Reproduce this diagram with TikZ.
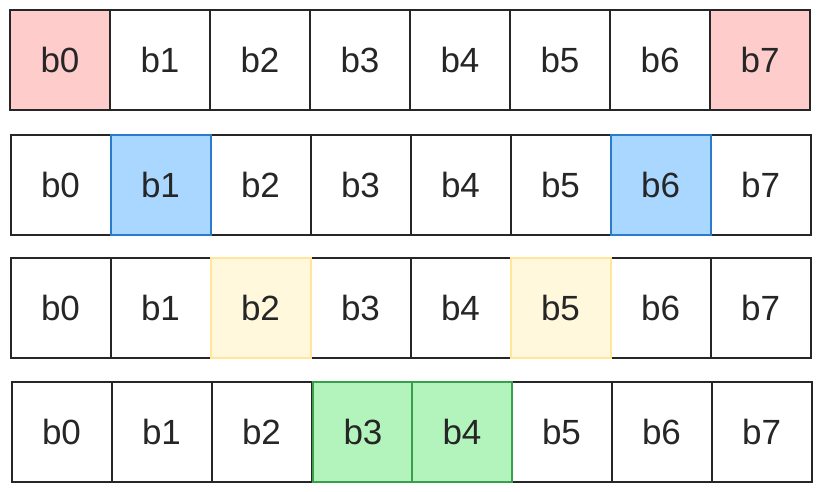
\documentclass[tikz,border=0pt]{standalone}
\usepackage{fontspec}
\setmainfont{Liberation Sans}
\definecolor{edge}{HTML}{262626}
\definecolor{redfill}{HTML}{FFCCCC}
\definecolor{bluefill}{HTML}{A9D7FF}
\definecolor{blueedge}{HTML}{2B7BCB}
\definecolor{yelfill}{HTML}{FFF8DC}
\definecolor{yeledge}{HTML}{FFE69A}
\definecolor{grnfill}{HTML}{B3F3BC}
\definecolor{grnedge}{HTML}{3A9F4A}
\tikzset{
  cell/.style={draw=edge, line width=2pt, fill=white, minimum width=100pt, minimum height=100pt,
    inner sep=0pt, outer sep=0pt, font=\fontsize{35}{40}\selectfont, text=edge, anchor=north west},
  redc/.style={fill=redfill},
  bluec/.style={fill=bluefill, draw=blueedge},
  yelc/.style={fill=yelfill, draw=yeledge},
  grnc/.style={fill=grnfill, draw=grnedge}
}
\begin{document}
\begin{tikzpicture}[x=1pt,y=-1pt]
\useasboundingbox (0,0) rectangle (820,491);
% row 1
\foreach \i in {1,...,6} \node[cell] (a\i) at (10+\i*100,10) {b\i};
\node[cell,redc] (a0) at (10,10) {b0};
\node[cell,redc] (a7) at (710,10) {b7};
% row 2
\foreach \i in {0,2,3,4,5,7} \node[cell] (r2c\i) at (10.5+\i*100,135) {b\i};
\node[cell,bluec] (r2c1) at (110.5,135) {b1};
\node[cell,bluec] (r2c6) at (610.5,135) {b6};
% row 3
\foreach \i in {0,1,3,4,6,7} \node[cell] (r3c\i) at (10.5+\i*100,258) {b\i};
\node[cell,yelc] (r3c2) at (210.5,258) {b2};
\node[cell,yelc] (r3c5) at (510.5,258) {b5};
% row 4
\foreach \i in {0,1,2,5,6,7} \node[cell] (r4c\i) at (11.5+\i*100,381.5) {b\i};
\node[cell,grnc] (r4c3) at (313,381.5) {b3};
\node[cell,grnc] (r4c4) at (412,381.5) {b4};
\end{tikzpicture}
\end{document}
